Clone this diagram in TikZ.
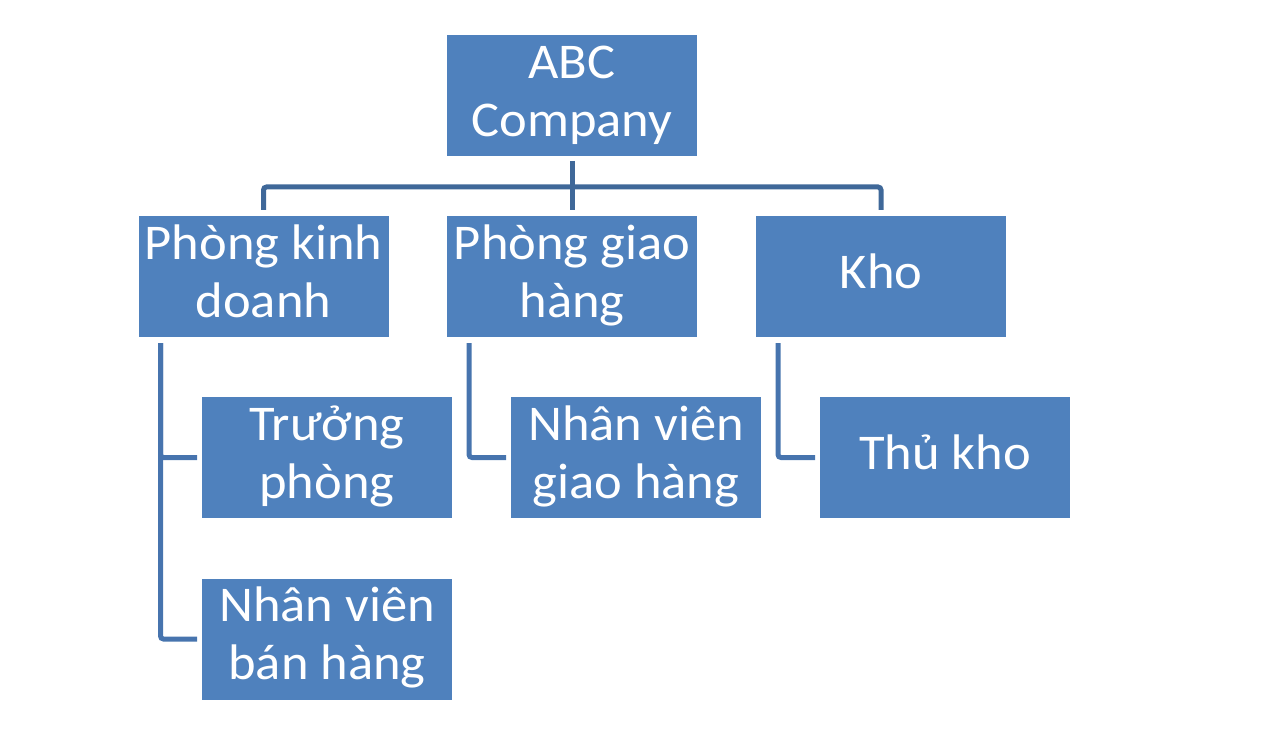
\documentclass[tikz,border=0pt]{standalone}
\usepackage{fontspec}
\setmainfont{Carlito}[FakeStretch=1.05]
\definecolor{boxfill}{HTML}{4F81BD}
\definecolor{topline}{HTML}{3F6899}
\definecolor{lowline}{HTML}{4774AE}
\begin{document}
\begin{tikzpicture}[x=1pt,y=-1pt,
  orgbox/.style={fill=boxfill,draw=none,minimum width=250pt,minimum height=121pt,
    inner sep=0pt,outer sep=0pt,align=center,text=white,
    font=\fontsize{50}{58}\selectfont},
  topconn/.style={draw=topline,line width=5pt,rounded corners=3pt},
  lowconn/.style={draw=lowline,line width=5pt,rounded corners=3pt}]
\useasboundingbox (0,0) rectangle (1281,751);
\node[orgbox] (abc) at (572,95.5) {\strut ABC\\Company\strut};
\node[orgbox] (pkd) at (263.5,276.5) {\strut Phòng kinh\\doanh\strut};
\node[orgbox] (pgh) at (572,276.5) {\strut Phòng giao\\hàng\strut};
\node[orgbox] (kho) at (881,276.5) {\strut Kho\strut};
\node[orgbox] (tp) at (327,457.5) {\strut Trưởng\\phòng\strut};
\node[orgbox] (nvgh) at (636,457.5) {\strut Nhân viên\\giao hàng\strut};
\node[orgbox] (tk) at (945,457.5) {\strut Thủ kho\strut};
\node[orgbox] (nvbh) at (327,639) {\strut Nhân viên\\bán hàng\strut};
% top connectors
\coordinate (hy) at (0,187);
\draw[topconn] ([yshift=-5pt]abc.south) -- ([yshift=6pt]pgh.north);
\draw[topconn] ([yshift=6pt]pkd.north) |- (hy -| pgh.north) -| ([yshift=6pt]kho.north);
% lower connectors
\draw[lowconn] ([xshift=22pt,yshift=-6pt]pkd.south west) |- ([xshift=-5pt]nvbh.west);
\draw[lowconn] ([xshift=22pt,yshift=-6pt]pkd.south west) |- ([xshift=-5pt]tp.west);
\draw[lowconn] ([xshift=22pt,yshift=-6pt]pgh.south west) |- ([xshift=-5pt]nvgh.west);
\draw[lowconn] ([xshift=22pt,yshift=-6pt]kho.south west) |- ([xshift=-5pt]tk.west);
\end{tikzpicture}
\end{document}
